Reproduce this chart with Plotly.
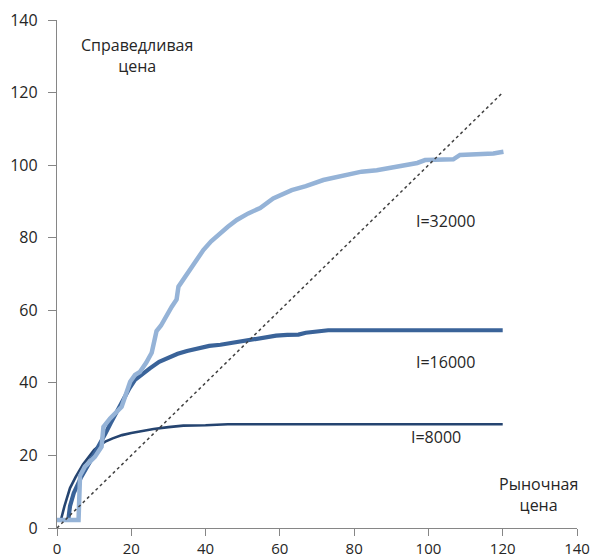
import plotly.graph_objects as go

# Diagonal reference line (fair price = market price)
diag_x = [0, 120]
diag_y = [0, 120]

# I=8000
i8000_x = [1, 2, 3.5, 5, 7, 8.5, 10, 11.5, 13, 15, 17.5, 20, 23, 26, 30, 34, 40, 46, 60, 80, 100, 120]
i8000_y = [2, 6, 11, 14, 17.5, 19.5, 21.5, 22.8, 23.8, 24.7, 25.6, 26.2, 26.8, 27.3, 27.8, 28.2, 28.3, 28.6, 28.6, 28.6, 28.6, 28.6]

# I=16000
i16000_x = [3, 3.5, 4.5, 6.5, 9, 11, 13, 14.5, 16, 17.5, 19.5, 21, 23, 25, 27.5, 30, 32.5, 35, 38, 41, 44, 47, 50,
            53, 56, 59, 62, 65, 67, 70, 73, 80, 90, 100, 110, 120]
i16000_y = [2, 6, 9.6, 14, 18.5, 22, 26, 29, 32, 35, 38.5, 40.8, 42.5, 44, 45.8, 47, 48, 48.8, 49.6, 50.2, 50.5, 51, 51.6,
            52.2, 52.6, 53, 53.2, 53.3, 53.8, 54.2, 54.5, 54.5, 54.5, 54.5, 54.5, 54.5]

# I=32000
i32000_x = [0, 5.8, 6.2, 7.5, 10.2, 12, 12.5, 14.3, 17.4, 18.8, 19.7, 21, 22.3, 24, 25.5, 26.8, 28, 30.9, 32.2, 32.7,
            34, 35.8, 37.5, 39.4, 41.5, 43.9, 46, 48.4, 51.5, 54.7, 58.2, 63.2, 67, 71.7, 75, 78.9, 82, 86.1, 90,
            94.1, 97, 99.1, 103, 106.7, 108.5, 112, 115, 117.5, 119, 120.2]
i32000_y = [2.2, 2.2, 14.4, 16.9, 19.6, 22.4, 27.9, 30.2, 33.4, 37.1, 40.3, 42.2, 43, 45.5, 48.3, 54.3, 55.8, 61, 63,
            66.5, 68.5, 71.1, 74, 76.6, 79, 81.2, 83, 84.9, 86.7, 88.2, 90.8, 93.1, 94.2, 95.9, 96.6, 97.7, 98.2,
            98.6, 99.3, 100, 100.6, 101.4, 101.5, 101.6, 102.8, 102.9, 103, 103.2, 103.5, 103.7]

tick_vals = [0, 20, 40, 60, 80, 100, 120, 140]

FONT = "Open Sans"
TXT = "#262626"

fig = go.Figure()
fig.add_trace(go.Scatter(x=i8000_x, y=i8000_y, mode="lines",
                         line=dict(color="#254470", width=2.6), showlegend=False))
fig.add_trace(go.Scatter(x=i16000_x, y=i16000_y, mode="lines",
                         line=dict(color="#3a6399", width=4.2), showlegend=False))
fig.add_trace(go.Scatter(x=i32000_x, y=i32000_y, mode="lines",
                         line=dict(color="#95b3d7", width=4.5), showlegend=False))
fig.add_trace(go.Scatter(x=diag_x, y=diag_y, mode="lines",
                         line=dict(color="#404040", width=1.5, dash="3px,3px"), showlegend=False))

annots = [
    dict(x=21.5, y=130.3, text="Справедливая<br>цена"),
    dict(x=129.5, y=9.1, text="Рыночная<br>цена"),
    dict(x=104.5, y=84.6, text="I=32000"),
    dict(x=104.7, y=45.7, text="I=16000"),
    dict(x=102, y=25.1, text="I=8000"),
]
for a in annots:
    fig.add_annotation(x=a["x"], y=a["y"], text=a["text"], showarrow=False,
                       xref="x", yref="y", xanchor="center", yanchor="middle",
                       font=dict(family=FONT, size=16, color=TXT))

axis_common = dict(range=[0, 140], tickvals=tick_vals, showgrid=False, zeroline=False,
                   showline=True, linecolor="#868686", linewidth=1.3, automargin=False,
                   ticks="outside", tickcolor="#868686", tickwidth=1.3)

fig.update_xaxes(**axis_common, ticklen=7, ticklabelstandoff=0,
                 tickfont=dict(family=FONT, size=15, color=TXT))
fig.update_yaxes(**axis_common, ticklen=8, ticklabelstandoff=7,
                 tickfont=dict(family=FONT, size=16, color=TXT))

fig.update_layout(width=592, height=560, margin=dict(l=57, r=15, t=20, b=32),
                  plot_bgcolor="white", paper_bgcolor="white",
                  font=dict(family=FONT, color=TXT))

fig.write_html("out.html")
